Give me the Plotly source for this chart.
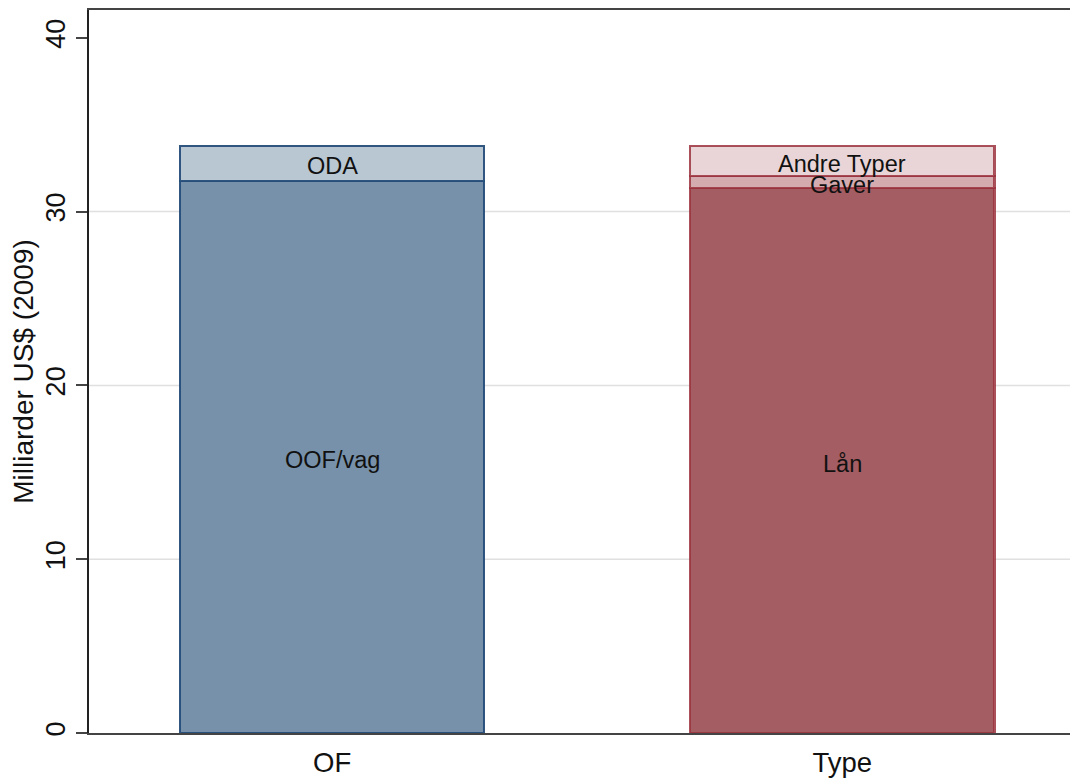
import plotly.graph_objects as go

categories = ["OF", "Type"]
of_segments = ["OOF/vag", "ODA"]
of_values = [31.77, 2.0]
type_segments = ["Lån", "Gaver", "Andre Typer"]
type_values = [31.35, 0.7, 1.73]
y_ticks = [0, 10, 20, 30, 40]
grid_vals = [10, 20, 30]

of_fill = ["#7791aa", "#b9c7d3"]
of_line = "rgba(38,78,122,0.95)"
type_fill = ["#a45d62", "#d4abae", "#e9d5d7"]
type_line = "rgba(155,50,62,0.85)"

font = "Liberation Sans, Arial, sans-serif"

fig = go.Figure()

def add_stack(cat, names, vals, fills, line):
    base = 0
    for n, v, c in zip(names, vals, fills):
        fig.add_trace(go.Bar(x=[cat], y=[v], name=n, marker=dict(color=c, line=dict(color=line, width=2.2)),
                             width=0.596, showlegend=False, hoverinfo="skip"))
        fig.add_annotation(x=cat, y=base + v / 2, text=n, showarrow=False, yshift=-3,
                           font=dict(family=font, size=23.5, color="#111"))
        base += v

add_stack(categories[0], of_segments, of_values, of_fill, of_line)
add_stack(categories[1], type_segments, type_values, type_fill, type_line)

for g in grid_vals:
    fig.add_hline(y=g, line=dict(color="#e0e0e0", width=1.5), layer="below")

fig.update_layout(
    width=1078, height=782,
    margin=dict(l=81, r=0, t=2, b=57),
    plot_bgcolor="white", paper_bgcolor="white",
    barmode="stack",
    font=dict(family=font, color="#111"),
    xaxis=dict(type="category", range=[-0.4765, 1.4775], showline=True, linecolor="#444", linewidth=2,
               mirror=True, ticks="", tickfont=dict(size=27.5), showgrid=False, automargin=False,
               ticklabelstandoff=4),
    yaxis=dict(range=[0, 41.6], tickvals=y_ticks, ticks="outside", ticklen=11, tickwidth=2, tickcolor="#444",
               showline=True, linecolor="#222", linewidth=2, showgrid=False, zeroline=False,
               tickangle=-90, tickfont=dict(size=27), automargin=False,
               title=dict(text="Milliarder US$ (2009)", font=dict(size=28), standoff=0)),
)

fig.write_html("out.html")
